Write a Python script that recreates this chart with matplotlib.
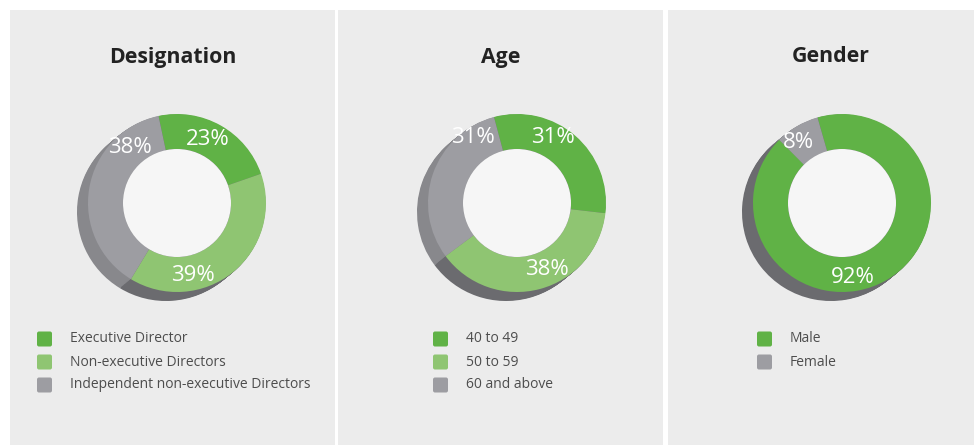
import matplotlib.pyplot as plt
from matplotlib.patches import Rectangle, FancyBboxPatch, Circle
import numpy as np

plt.rcParams["font.family"] = ["Open Sans", "DejaVu Sans"]

# --------------------------------------------------------------------------- #
# Data
# --------------------------------------------------------------------------- #
titles = ["Designation", "Age", "Gender"]

designation_labels = ["Executive Director", "Non-executive Directors",
                      "Independent non-executive Directors"]
designation_values = [23, 39, 38]

age_labels = ["40 to 49", "50 to 59", "60 and above"]
age_values = [31, 38, 31]

gender_labels = ["Male", "Female"]
gender_values = [92, 8]

# --------------------------------------------------------------------------- #
# Style / layout (pixels, origin top-left)
# --------------------------------------------------------------------------- #
W, H = 974, 445
DARK_GREEN = "#60b246"
LIGHT_GREEN = "#8fc572"
GREY = "#9d9da2"
SHADOW_GREEN = "#6b6b6f"
SHADOW_GREY = "#88888c"
PANEL = "#ececec"
HOLE = "#f6f6f6"

panels_x = [10, 338, 668]
panel_w = 325
donut_centres = [(177, 203), (517, 203), (842, 203)]
R_PX = 89
HOLE_FRAC = 54 / 89
SHADOW_OFF = (-11, 9)          # px, left / down
legend_x = [37, 433, 757]
legend_y = [339, 362, 385]

label_pos = [  # (angle deg, radius) per wedge
    [(64.5, 0.79), (-77.5, 0.83), (130, 0.82)],
    [(61, 0.84), (-66, 0.82), (124, 0.89)],
    [(-82, 0.85), (126, 0.84)],
]

series = [
    (designation_values, designation_labels, [DARK_GREEN, LIGHT_GREEN, GREY],
     [SHADOW_GREEN, SHADOW_GREEN, SHADOW_GREY], 102),
    (age_values, age_labels, [DARK_GREEN, LIGHT_GREEN, GREY],
     [SHADOW_GREEN, SHADOW_GREEN, SHADOW_GREY], 105),
    (gender_values, gender_labels, [DARK_GREEN, GREY],
     [SHADOW_GREEN, SHADOW_GREY], 106),
]

fig = plt.figure(figsize=(W / 100, H / 100), dpi=100)
fig.patch.set_facecolor("white")

bg = fig.add_axes([0, 0, 1, 1])
bg.set_xlim(0, W)
bg.set_ylim(H, 0)
bg.axis("off")

L = 1.3
box = 2 * L * R_PX

for i, (vals, labs, cols, shcols, start) in enumerate(series):
    px = panels_x[i]
    bg.add_patch(Rectangle((px, 10), panel_w, H - 10, facecolor=PANEL,
                           edgecolor="none", zorder=0))
    bg.text(px + panel_w / 2, 57, titles[i], ha="center", va="center",
            fontsize=15.3, fontweight="bold", color="#222222")

    # legend
    for j, lab in enumerate(labs):
        y = legend_y[j]
        bg.add_patch(FancyBboxPatch((legend_x[i], y - 7.5), 15, 15,
                                    boxstyle="round,pad=0,rounding_size=2",
                                    facecolor=cols[j], edgecolor="none", zorder=2))
        bg.text(legend_x[i] + 33, y, lab, ha="left", va="center",
                fontsize=10, color="#4d4d4d")

    # donut
    cx, cy = donut_centres[i]
    ax = fig.add_axes([(cx - box / 2) / W, (H - cy - box / 2) / H, box / W, box / H])
    ax.axis("off")

    dx, dy = SHADOW_OFF[0] / R_PX, -SHADOW_OFF[1] / R_PX
    for t in np.linspace(1, 0.05, 14):
        ax.pie(vals, colors=shcols, startangle=start, counterclock=False,
               center=(dx * t, dy * t), radius=1,
               wedgeprops=dict(edgecolor="none", linewidth=0))
    ax.pie(vals, colors=cols, startangle=start, counterclock=False, radius=1,
           wedgeprops=dict(width=1 - HOLE_FRAC, edgecolor="none", linewidth=0))
    ax.add_patch(Circle((0, 0), HOLE_FRAC, facecolor=HOLE, edgecolor="none", zorder=5))

    for j, v in enumerate(vals):
        ang, r = label_pos[i][j]
        a = np.deg2rad(ang)
        ax.text(r * np.cos(a), r * np.sin(a), f"{v}%", ha="center", va="center",
                fontsize=16, color="white", zorder=6)

    ax.set_xlim(-L, L)
    ax.set_ylim(-L, L)
    ax.set_aspect("equal")

fig.savefig("out.png", dpi=100, facecolor="white")
